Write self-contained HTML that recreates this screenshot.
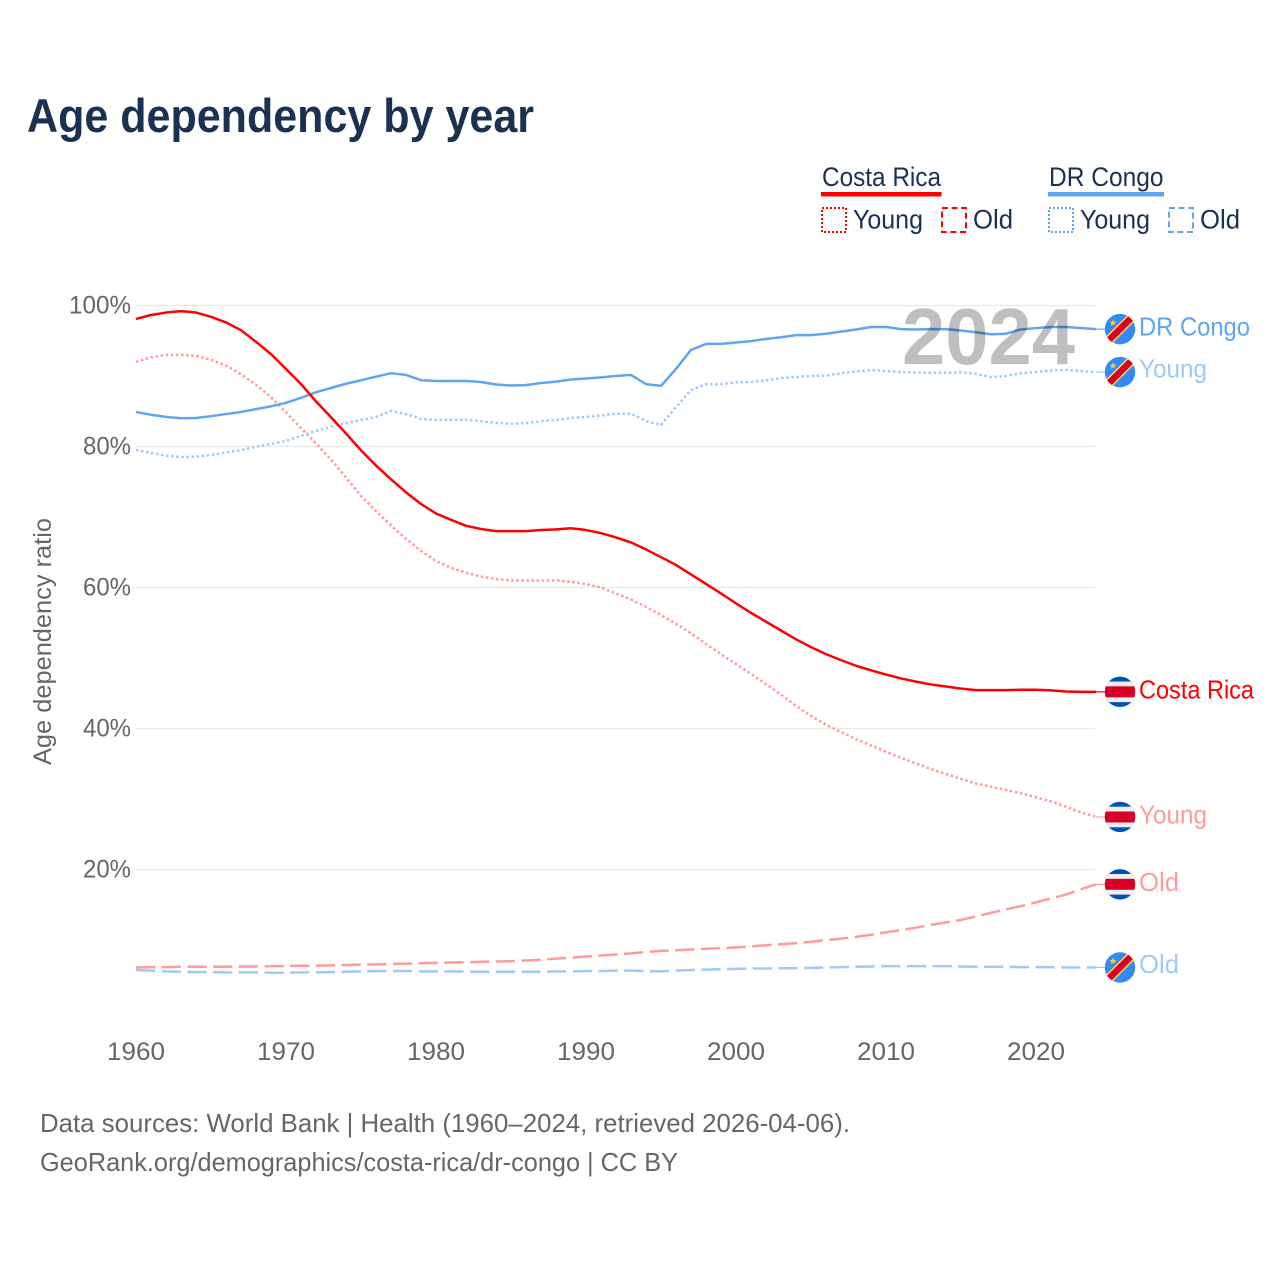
<!DOCTYPE html>
<html lang="en">
<head>
<meta charset="utf-8">
<title>Age dependency by year</title>
<style>
html,body{margin:0;padding:0;background:#fff;width:1280px;height:1280px;overflow:hidden}
svg{display:block}
text{font-family:"Liberation Sans",sans-serif}
</style>
</head>
<body>
<svg id="chart" xmlns="http://www.w3.org/2000/svg" width="1280" height="1280" viewBox="0 0 1280 1280">
  <rect x="0" y="0" width="1280" height="1280" fill="#fff"/>
  <text x="27" y="132" font-size="47" font-weight="700" fill="#1a3152" textLength="507" lengthAdjust="spacingAndGlyphs">Age dependency by year</text>

  <g>
    <g>
      <text x="822" y="186" font-size="27" fill="#1a3152" textLength="119" lengthAdjust="spacingAndGlyphs">Costa Rica</text>
      <rect x="821" y="192" width="120.5" height="4.5" fill="#ff0000"/>
    </g>
    <g>
      <rect x="822" y="208" width="24" height="24" fill="none" stroke="#ff0000" stroke-width="2" stroke-dasharray="2 2"/>
      <text x="853" y="228.5" font-size="27" fill="#1a3152" textLength="70" lengthAdjust="spacingAndGlyphs">Young</text>
    </g>
    <g>
      <rect x="942" y="208" width="24" height="24" fill="none" stroke="#ff0000" stroke-width="2" stroke-dasharray="6 3.6"/>
      <text x="973" y="228.5" font-size="27" fill="#1a3152" textLength="40" lengthAdjust="spacingAndGlyphs">Old</text>
    </g>
    <g>
      <text x="1049" y="186" font-size="27" fill="#1a3152" textLength="114.5" lengthAdjust="spacingAndGlyphs">DR Congo</text>
      <rect x="1048" y="192" width="116" height="4.5" fill="#5fa5ef"/>
    </g>
    <g>
      <rect x="1049" y="208" width="24" height="24" fill="none" stroke="#5fa5ef" stroke-width="2" stroke-dasharray="2 2"/>
      <text x="1080" y="228.5" font-size="27" fill="#1a3152" textLength="70" lengthAdjust="spacingAndGlyphs">Young</text>
    </g>
    <g>
      <rect x="1169" y="208" width="24" height="24" fill="none" stroke="#5fa5ef" stroke-width="2" stroke-dasharray="6 3.6"/>
      <text x="1200" y="228.5" font-size="27" fill="#1a3152" textLength="40" lengthAdjust="spacingAndGlyphs">Old</text>
    </g>
  </g>

  <g id="grid"></g>
  <g id="yticks"></g>
  <g id="xticks"></g>
  <text transform="translate(51 765) rotate(-90)" font-size="25" fill="#666666" textLength="247" lengthAdjust="spacingAndGlyphs">Age dependency ratio</text>

  <g id="series"></g>

  <text x="902" y="364" font-size="80" font-weight="700" fill="#000000" fill-opacity="0.25" textLength="173" lengthAdjust="spacingAndGlyphs">2024</text>

  <g id="endlabels"></g>

  <text x="40" y="1132" font-size="26" fill="#666666" textLength="810" lengthAdjust="spacingAndGlyphs">Data sources: World Bank | Health (1960–2024, retrieved 2026-04-06).</text>
  <text x="40" y="1171" font-size="26" fill="#666666" textLength="638" lengthAdjust="spacingAndGlyphs">GeoRank.org/demographics/costa-rica/dr-congo | CC BY</text>
</svg>

<script>
const years = [1960,1961,1962,1963,1964,1965,1966,1967,1968,1969,1970,1971,1972,1973,1974,1975,1976,1977,1978,1979,1980,1981,1982,1983,1984,1985,1986,1987,1988,1989,1990,1991,1992,1993,1994,1995,1996,1997,1998,1999,2000,2001,2002,2003,2004,2005,2006,2007,2008,2009,2010,2011,2012,2013,2014,2015,2016,2017,2018,2019,2020,2021,2022,2023,2024];

const costaRicaTotal = [98.1,98.65,99.0,99.2,99.0,98.4,97.6,96.5,94.85,93.1,91.0,88.85,86.4,84.15,81.85,79.45,77.3,75.35,73.5,71.85,70.5,69.6,68.75,68.3,68.0,68.0,68.0,68.15,68.25,68.4,68.15,67.7,67.1,66.4,65.4,64.3,63.2,61.85,60.5,59.15,57.75,56.4,55.15,53.9,52.65,51.55,50.55,49.7,48.9,48.25,47.65,47.1,46.65,46.25,45.95,45.65,45.45,45.45,45.45,45.5,45.5,45.4,45.25,45.2,45.2];

const costaRicaYoung = [92.0,92.65,93.0,93.0,92.85,92.3,91.5,90.25,88.75,87.0,84.85,82.6,80.45,78.15,75.6,73.0,70.85,68.8,66.9,65.2,63.75,62.8,62.1,61.55,61.2,61.0,61.0,61.0,61.0,60.8,60.5,60.0,59.15,58.3,57.25,56.1,54.85,53.5,52.0,50.55,49.15,47.75,46.3,44.8,43.2,41.8,40.55,39.5,38.5,37.6,36.7,35.85,35.05,34.25,33.55,32.85,32.2,31.75,31.3,30.8,30.25,29.65,28.9,28.1,27.45];

const costaRicaOld = [6.1,6.15,6.15,6.2,6.2,6.2,6.2,6.25,6.25,6.3,6.3,6.35,6.35,6.4,6.45,6.5,6.55,6.6,6.65,6.7,6.75,6.8,6.85,6.9,6.95,7.0,7.1,7.2,7.35,7.5,7.65,7.8,7.95,8.1,8.3,8.45,8.55,8.65,8.75,8.85,8.95,9.1,9.25,9.4,9.55,9.75,10.0,10.2,10.45,10.75,11.1,11.4,11.75,12.15,12.5,12.85,13.35,13.85,14.35,14.8,15.35,15.9,16.45,17.2,17.9];

const drCongoTotal = [84.9,84.5,84.2,84.0,84.05,84.3,84.6,84.9,85.3,85.7,86.2,86.9,87.7,88.3,88.9,89.4,89.9,90.4,90.15,89.4,89.3,89.3,89.3,89.15,88.8,88.65,88.7,89.0,89.2,89.5,89.65,89.8,90.0,90.15,88.85,88.6,91.0,93.7,94.55,94.55,94.75,94.95,95.25,95.5,95.8,95.8,96.0,96.3,96.6,96.95,96.95,96.65,96.6,96.65,96.65,96.45,96.2,95.9,96.0,96.6,96.8,96.95,96.95,96.8,96.65];

const drCongoYoung = [79.5,79.1,78.7,78.5,78.55,78.8,79.15,79.5,79.95,80.35,80.8,81.5,82.2,82.8,83.3,83.75,84.2,85.05,84.6,83.9,83.75,83.8,83.8,83.6,83.35,83.25,83.3,83.6,83.75,84.05,84.2,84.4,84.65,84.65,83.6,83.05,85.6,88.0,88.85,88.85,89.1,89.15,89.4,89.7,89.85,90.0,90.05,90.4,90.65,90.85,90.7,90.55,90.5,90.45,90.45,90.55,90.3,89.85,90.0,90.4,90.55,90.8,90.85,90.7,90.55];

const drCongoOld = [5.75,5.65,5.55,5.5,5.45,5.45,5.4,5.4,5.4,5.35,5.35,5.4,5.4,5.45,5.5,5.55,5.6,5.6,5.6,5.55,5.55,5.55,5.5,5.5,5.5,5.5,5.5,5.5,5.55,5.55,5.6,5.6,5.65,5.65,5.6,5.55,5.65,5.75,5.8,5.85,5.9,5.95,5.95,6.0,6.0,6.05,6.1,6.15,6.2,6.25,6.3,6.3,6.3,6.3,6.3,6.25,6.2,6.2,6.2,6.15,6.15,6.15,6.1,6.1,6.1];

const yTickValues = [20,40,60,80,100];
const yTickLabels = ["20%","40%","60%","80%","100%"];
const xTickValues = [1960,1970,1980,1990,2000,2010,2020];
const xTickLabels = ["1960","1970","1980","1990","2000","2010","2020"];

const NS = "http://www.w3.org/2000/svg";
function xScale(year){ return 136 + (year - 1960) * 15; }
function yScale(v){ return 1010.5 - v * 7.05; }
function make(tag, attrs, parent){
  const el = document.createElementNS(NS, tag);
  for (const k in attrs) el.setAttribute(k, attrs[k]);
  parent.appendChild(el);
  return el;
}

const gridG = document.getElementById("grid");
const yG = document.getElementById("yticks");
const xG = document.getElementById("xticks");
yTickValues.forEach(function(v, i){
  const line = make("line", {x1:136, x2:1095, y1:yScale(v), y2:yScale(v), stroke:"#e9e9e9", "stroke-width":1.2}, gridG);
  
  
  const label = make("text", {x:131, y:yScale(v) + 8, "text-anchor":"end", "font-size":25, fill:"#666666", textLength: yTickLabels[i].length === 4 ? 62 : 48, lengthAdjust:"spacingAndGlyphs"}, yG);
  label.textContent = yTickLabels[i];
  
  
});
xTickValues.forEach(function(v, i){
  const label = make("text", {x:xScale(v), y:1060, "text-anchor":"middle", "font-size":25, fill:"#666666", textLength:58, lengthAdjust:"spacingAndGlyphs"}, xG);
  label.textContent = xTickLabels[i];
  
  
});

const seriesG = document.getElementById("series");
const labelG = document.getElementById("endlabels");

function pathFor(values){
  return values.map(function(v, i){
    return (i ? "L" : "M") + xScale(years[i]) + " " + yScale(v).toFixed(2);
  }).join(" ");
}

function drawSeries(values, color, dash, slug){
  const attrs = {d:pathFor(values), fill:"none", stroke:color, "stroke-width":2.5, "stroke-linejoin":"round"};
  if (dash) attrs["stroke-dasharray"] = dash;
  const p = make("path", attrs, seriesG);
  
  
  const last = values[values.length - 1];
  const conn = make("line", {x1:1096, x2:1105, y1:yScale(last), y2:yScale(last), stroke:color, "stroke-width":1.2}, seriesG);
  
  
}

function flagCR(cy, parent, id){
  const g = make("g", {transform:"translate(1120 " + cy.toFixed(2) + ")"}, parent);
  
  
  const cp = make("clipPath", {id:id}, g);
  make("circle", {cx:0, cy:0, r:15.2}, cp);
  const inner = make("g", {"clip-path":"url(#" + id + ")"}, g);
  make("rect", {x:-16, y:-16, width:32, height:32, fill:"#0052b4"}, inner);
  make("rect", {x:-16, y:-10.3, width:32, height:20.6, fill:"#f0f0f0"}, inner);
  make("rect", {x:-16, y:-5.5, width:32, height:11, fill:"#d80027"}, inner);
}

function flagCD(cy, parent, id){
  const g = make("g", {transform:"translate(1120 " + cy.toFixed(2) + ")"}, parent);
  
  
  const cp = make("clipPath", {id:id}, g);
  make("circle", {cx:0, cy:0, r:15.2}, cp);
  const inner = make("g", {"clip-path":"url(#" + id + ")"}, g);
  make("rect", {x:-16, y:-16, width:32, height:32, fill:"#338af3"}, inner);
  make("line", {x1:-18, y1:18, x2:18, y2:-18, stroke:"#ffda44", "stroke-width":9.5}, inner);
  make("line", {x1:-18, y1:18, x2:18, y2:-18, stroke:"#d80027", "stroke-width":6.5}, inner);
  make("polygon", {points:"-7,-10 -6,-7.5 -3.4,-7.5 -5.4,-5.8 -4.7,-3.2 -7,-4.7 -9.3,-3.2 -8.6,-5.8 -10.6,-7.5 -8,-7.5", fill:"#f6c94e"}, inner);
}

function drawEndLabel(values, text, color, dy, width, isCR, id){
  const cy = yScale(values[values.length - 1]);
  if (isCR) flagCR(cy, labelG, id); else flagCD(cy, labelG, id);
  const t = make("text", {x:1139, y:(cy + dy).toFixed(2), "font-size":26, fill:color, textLength:width, lengthAdjust:"spacingAndGlyphs"}, labelG);
  t.textContent = text;
  
  
}

const RED = "#ff0000", RED_L = "#ff9b9b", BLUE = "#5fa5ef", BLUE_L = "#a0c9f6";
drawSeries(costaRicaYoung, RED_L, "2.5 2.6", "costa-rica-young-line");
drawSeries(costaRicaOld, RED_L, "19.3 6.4", "costa-rica-old-line");
drawSeries(drCongoYoung, BLUE_L, "2.5 2.6", "dr-congo-young-line");
drawSeries(drCongoOld, BLUE_L, "19.3 6.4", "dr-congo-old-line");
drawSeries(drCongoTotal, BLUE, null, "dr-congo-total-line");
drawSeries(costaRicaTotal, RED, null, "costa-rica-total-line");

drawEndLabel(drCongoTotal, "DR Congo", BLUE, 6.5, 111, false, "clip-cd-total");
drawEndLabel(drCongoYoung, "Young", BLUE_L, 5.5, 68, false, "clip-cd-young");
drawEndLabel(costaRicaTotal, "Costa Rica", RED, 6.5, 115, true, "clip-cr-total");
drawEndLabel(costaRicaYoung, "Young", RED_L, 6.5, 68, true, "clip-cr-young");
drawEndLabel(costaRicaOld, "Old", RED_L, 6.5, 40, true, "clip-cr-old");
drawEndLabel(drCongoOld, "Old", BLUE_L, 5.5, 40, false, "clip-cd-old");
</script>
</body>
</html>
